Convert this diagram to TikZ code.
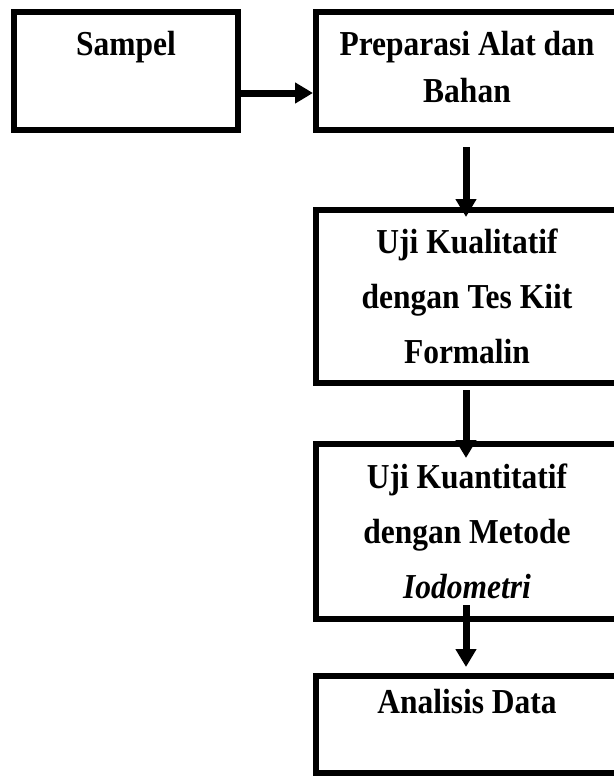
\documentclass[tikz,border=0pt]{standalone}
\usepackage{fontspec}
\setmainfont{Liberation Serif}[FakeStretch=0.9]
\usetikzlibrary{arrows.meta}
\begin{document}
\begin{tikzpicture}[x=1pt,y=-1pt,
  kotak/.style={draw,line width=6pt,inner sep=0pt,align=center,
    font=\bfseries\fontsize{35}{47}\selectfont},
  lebar/.style={font=\bfseries\fontsize{35}{55}\selectfont},
  panah/.style={line width=7pt,-{Triangle[length=18pt,width=20pt]}}]
\useasboundingbox (0,0) rectangle (613,776);

\node[kotak,text depth=8pt,minimum width=224pt,minimum height=118pt] (sampel) at (126,71) {Sampel\\\mbox{}};
\node[kotak,text depth=8pt,minimum width=302pt,minimum height=118pt] (prep) at (467,71) {Preparasi Alat dan\\Bahan};

\node[kotak,lebar,minimum width=302pt,minimum height=173pt] (kual) at (467,296.5)
  {Uji Kualitatif\\dengan Tes Kiit\\Formalin};
\node[kotak,lebar,minimum width=302pt,minimum height=175pt] (kuan) at (467,531.5)
  {Uji Kuantitatif\\dengan Metode\\\textit{Iodometri}};
\node[kotak,minimum width=302pt,minimum height=97pt] (anal) at (467,724.5) {Analisis Data\\\mbox{}};

\draw[panah] ([yshift=-22pt]sampel.east) -- ([yshift=-22pt]prep.west);
\draw[panah] ([xshift=-1pt,yshift=-14pt]prep.south) -- ([xshift=-1pt,yshift=-10pt]kual.north);
\draw[panah] ([xshift=-1pt,yshift=-4pt]kual.south) -- ([xshift=-1pt,yshift=-17pt]kuan.north);
\draw[panah] ([xshift=-1pt,yshift=17pt]kuan.south) -- ([xshift=-1pt,yshift=6pt]anal.north);
\end{tikzpicture}
\end{document}
